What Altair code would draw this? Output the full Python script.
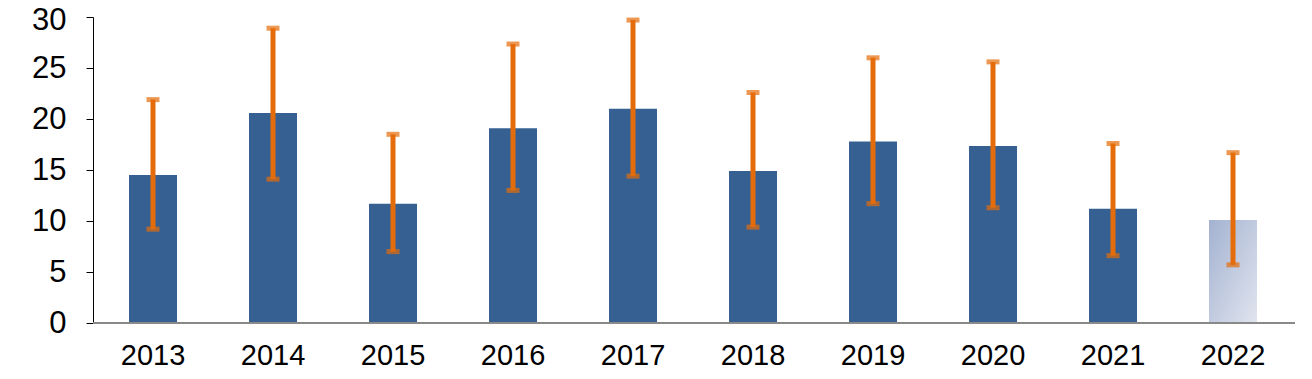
import altair as alt
import pandas as pd

years = ["2013", "2014", "2015", "2016", "2017", "2018", "2019", "2020", "2021", "2022"]
values = [14.5, 20.6, 11.7, 19.1, 21.0, 14.9, 17.8, 17.35, 11.2, 10.1]
err_low = [9.2, 14.1, 7.0, 13.0, 14.4, 9.4, 11.7, 11.3, 6.6, 5.7]
err_high = [21.9, 28.9, 18.5, 27.35, 29.7, 22.6, 26.0, 25.6, 17.6, 16.7]
y_ticks = [0, 5, 10, 15, 20, 25, 30]

df = pd.DataFrame({"year": years, "value": values, "lo": err_low, "hi": err_high})
df["proj"] = df["year"] == "2022"

FONT = "Liberation Sans"
x = alt.X("year:N", sort=years,
          scale=alt.Scale(paddingInner=0.6, paddingOuter=0.3),
          axis=alt.Axis(title=None, labelAngle=0, labelFontSize=29, labelFont=FONT,
                        labelColor="#000000", ticks=False, domain=False, labelPadding=18))
y_scale = alt.Scale(domain=[0, 30], nice=False)
y_axis = alt.Axis(title=None, values=y_ticks, grid=False, labelFontSize=31, labelFont=FONT,
                  labelColor="#000000", domainColor="#000000", tickColor="#000000",
                  tickSize=7, labelPadding=20, domainWidth=1, tickWidth=1,
                  labelOffset={"condition": {"test": "datum.value == 30", "value": 3}, "value": 0})

base = alt.Chart(df)

bars = base.transform_filter("!datum.proj").mark_bar(color="#376092").encode(
    x=x, y=alt.Y("value:Q", scale=y_scale, axis=y_axis))

grad_bar = base.transform_filter("datum.proj").mark_bar(
    color=alt.Gradient(gradient="linear",
                       stops=[alt.GradientStop(color="#a3b2d1", offset=0),
                              alt.GradientStop(color="#e0e4ee", offset=1)],
                       x1=0, y1=0, x2=1, y2=1)
).encode(x=x, y=alt.Y("value:Q", scale=y_scale, axis=y_axis))

baseline = alt.Chart(df).transform_filter("datum.year == '2013'").mark_rule(
    color="#898989", strokeWidth=2).encode(
    y=alt.value(306), x=alt.value(0), x2=alt.value(1202))

rules = base.mark_rule(color="#E46C0A", strokeWidth=5).encode(
    x=x, y=alt.Y("lo:Q", scale=y_scale, axis=y_axis), y2="hi:Q")
cap_lo = base.mark_tick(color="#E46C0A", size=13, thickness=5, orient="horizontal").encode(
    x=x, y=alt.Y("lo:Q", scale=y_scale, axis=y_axis))
cap_hi = base.mark_tick(color="#E46C0A", size=13, thickness=5, orient="horizontal").encode(
    x=x, y=alt.Y("hi:Q", scale=y_scale, axis=y_axis))

chart = alt.layer(bars, grad_bar, rules, cap_lo, cap_hi, baseline).properties(
    width=1200, height=306,
    background="#ffffff",
    view=alt.ViewBackground(strokeOpacity=0, strokeWidth=0, stroke="#ffffff"),
    autosize=alt.AutoSizeParams(type="none"),
    padding={"left": 85, "top": 9, "right": 11, "bottom": 50},
).configure_view(stroke="#ffffff", strokeOpacity=0, strokeWidth=0)

chart.save("out.html", embed_options={"renderer": "svg", "actions": False})
